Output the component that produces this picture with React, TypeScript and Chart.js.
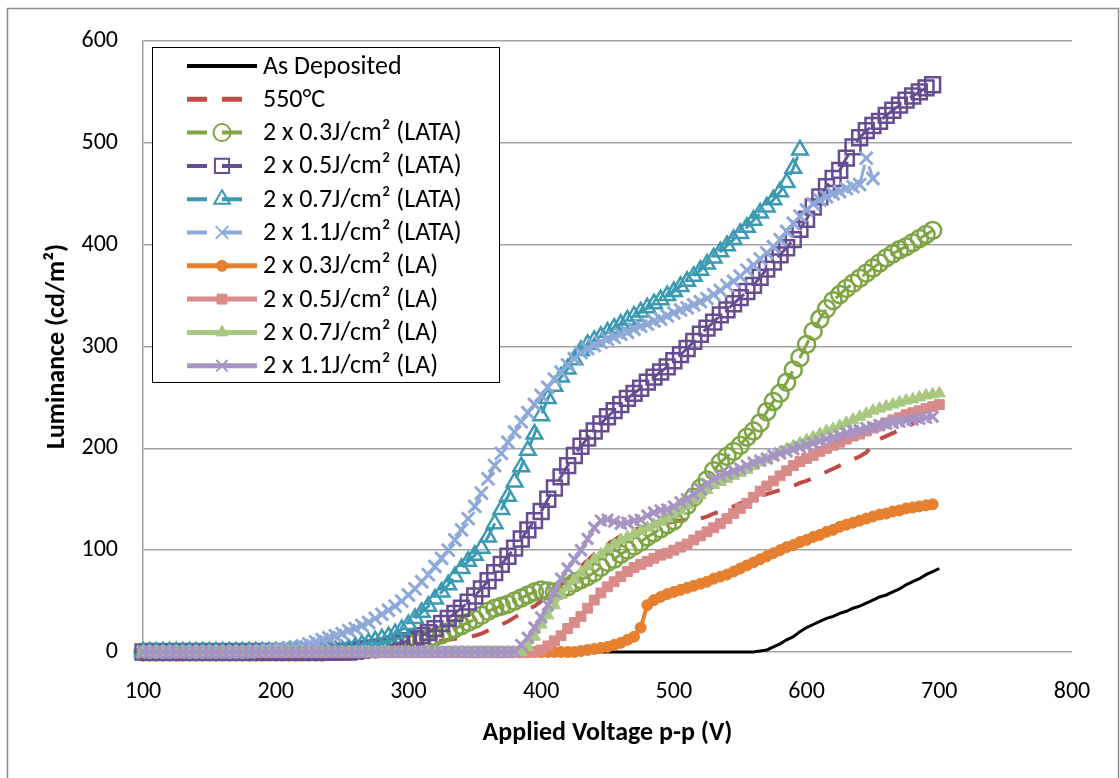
import React, { useEffect, useRef } from "react";
import { Chart, registerables } from "chart.js";

Chart.register(...registerables);

// Applied voltage sweep (V, peak-to-peak)
const voltage = [
  100, 105, 110, 115, 120, 125, 130, 135, 140, 145,
  150, 155, 160, 165, 170, 175, 180, 185, 190, 195,
  200, 205, 210, 215, 220, 225, 230, 235, 240, 245,
  250, 255, 260, 265, 270, 275, 280, 285, 290, 295,
  300, 305, 310, 315, 320, 325, 330, 335, 340, 345,
  350, 355, 360, 365, 370, 375, 380, 385, 390, 395,
  400, 405, 410, 415, 420, 425, 430, 435, 440, 445,
  450, 455, 460, 465, 470, 475, 480, 485, 490, 495,
  500, 505, 510, 515, 520, 525, 530, 535, 540, 545,
  550, 555, 560, 565, 570, 575, 580, 585, 590, 595,
  600, 605, 610, 615, 620, 625, 630, 635, 640, 645,
  650, 655, 660, 665, 670, 675, 680, 685, 690, 695,
  700,
];

// Luminance (cd/m²) for each sample, starting at 100 V
const asDeposited = [
  0, 0, 0, 0, 0, 0, 0, 0, 0, 0,
  0, 0, 0, 0, 0, 0, 0, 0, 0, 0,
  0, 0, 0, 0, 0, 0, 0, 0, 0, 0,
  0, 0, 0, 0, 0, 0, 0, 0, 0, 0,
  0, 0, 0, 0, 0, 0, 0, 0, 0, 0,
  0, 0, 0, 0, 0, 0, 0, 0, 0, 0,
  0, 0, 0, 0, 0, 0, 0, 0, 0, 0,
  0, 0, 0, 0, 0, 0, 0, 0, 0, 0,
  0, 0, 0, 0, 0, 0, 0, 0, 0, 0,
  0, 0, 0, 1, 2, 5, 8, 12, 15, 20,
  24, 27, 30, 33, 35, 38, 40, 43, 45, 48,
  51, 54, 56, 59, 62, 66, 69, 72, 76, 79,
  82,
];

const furnace550 = [
  0, 0, 0, 0, 0, 0, 0, 0, 0, 0,
  0, 0, 0, 0, 0, 0, 0, 0, 0, 0,
  0, 0, 0, 0, 0, 0, 0, 0, 0, 0,
  0, 1, 1, 2, 2, 3, 3, 4, 5, 5,
  6, 7, 8, 9, 10, 11, 12, 13, 14, 15,
  16, 18, 21, 24, 27, 30, 34, 38, 42, 45,
  50, 55, 60, 66, 72, 78, 84, 90, 96, 101,
  106, 110, 114, 117, 120, 122, 123, 124, 126, 127,
  128, 129, 130, 130, 131, 133, 136, 138, 141, 143,
  146, 148, 151, 153, 155, 157, 159, 161, 163, 166,
  168, 171, 174, 177, 180, 183, 186, 189, 192, 196,
  203, 209, 212, 215, 218, 221, 224, 228, 232, 236,
  240,
];

const lata03 = [
  0, 0, 0, 0, 0, 0, 0, 0, 0, 0,
  0, 0, 0, 0, 0, 0, 0, 0, 0, 0,
  0, 0, 0, 0, 0, 0, 0, 0, 1, 1,
  1, 1, 2, 2, 3, 3, 4, 5, 6, 7,
  8, 9, 11, 13, 15, 17, 20, 23, 26, 29,
  32, 36, 40, 43, 45, 47, 50, 53, 56, 59,
  61, 60, 59, 61, 64, 68, 71, 74, 78, 83,
  88, 91, 96, 100, 104, 108, 113, 117, 121, 125,
  129, 136, 144, 152, 161, 169, 178, 186, 192, 197,
  203, 211, 217, 225, 236, 246, 254, 265, 277, 289,
  302, 315, 327, 337, 345, 351, 357, 362, 367, 372,
  377, 382, 387, 391, 395, 398, 402, 406, 410, 414,
];

const lata05 = [
  0, 0, 0, 0, 0, 0, 0, 0, 0, 0,
  0, 0, 0, 0, 0, 0, 0, 0, 0, 0,
  0, 0, 0, 0, 0, 0, 0, 0, 0, 0,
  0, 0, 1, 2, 3, 4, 5, 6, 8, 9,
  11, 13, 16, 19, 23, 28, 33, 38, 43, 49,
  55, 62, 70, 78, 86, 94, 102, 111, 120, 129,
  138, 150, 161, 172, 183, 193, 202, 210, 217, 224,
  231, 237, 243, 249, 254, 259, 265, 270, 275, 280,
  286, 292, 298, 305, 312, 318, 324, 331, 336, 342,
  348, 354, 360, 368, 376, 383, 390, 397, 405, 415,
  425, 437, 447, 457, 465, 473, 485, 496, 505, 512,
  517, 521, 527, 532, 537, 542, 546, 550, 554, 557,
];

const lata07 = [
  0, 0, 0, 0, 0, 0, 0, 0, 0, 0,
  0, 0, 0, 0, 0, 0, 0, 0, 0, 0,
  0, 0, 0, 0, 0, 0, 0, 0, 1, 1,
  2, 3, 5, 7, 9, 11, 13, 15, 18, 22,
  27, 33, 39, 45, 52, 59, 66, 74, 82, 89,
  95, 102, 113, 126, 140, 153, 167, 182, 198, 214,
  232, 249, 261, 270, 278, 287, 296, 302, 306, 310,
  314, 318, 322, 326, 330, 334, 338, 342, 346, 350,
  354, 359, 364, 369, 375, 381, 387, 393, 399, 405,
  411, 417, 424, 431, 437, 444, 452, 461, 475, 493,
];

const lata11 = [
  0, 0, 0, 0, 0, 0, 0, 0, 0, 0,
  0, 0, 0, 0, 0, 0, 0, 1, 1, 2,
  2, 3, 4, 5, 6, 8, 10, 12, 14, 16,
  18, 21, 23, 26, 29, 33, 37, 41, 45, 50,
  56, 62, 69, 76, 84, 92, 100, 110, 120, 131,
  143, 156, 170, 183, 195, 206, 216, 226, 235, 243,
  252, 260, 268, 275, 282, 288, 294, 298, 301, 304,
  307, 309, 312, 314, 317, 320, 322, 325, 327, 330,
  333, 336, 338, 341, 344, 347, 351, 355, 360, 364,
  369, 375, 380, 386, 392, 398, 405, 413, 421, 428,
  434, 440, 444, 447, 450, 452, 455, 457, 459, 485,
  465,
];

const la03 = [
  0, 0, 0, 0, 0, 0, 0, 0, 0, 0,
  0, 0, 0, 0, 0, 0, 0, 0, 0, 0,
  0, 0, 0, 0, 0, 0, 0, 0, 0, 0,
  0, 0, 0, 0, 0, 0, 0, 0, 0, 0,
  0, 0, 0, 0, 0, 0, 0, 0, 0, 0,
  0, 0, 0, 0, 0, 0, 0, 0, 0, 0,
  0, 0, 0, 0, 0, 0, 1, 2, 3, 4,
  5, 7, 9, 12, 15, 24, 46, 51, 54, 57,
  59, 61, 63, 65, 67, 69, 72, 74, 76, 79,
  82, 85, 88, 91, 94, 97, 100, 103, 105, 108,
  110, 113, 115, 118, 120, 123, 125, 127, 129, 131,
  133, 135, 136, 138, 139, 141, 142, 143, 144, 145,
];

const la05 = [
  0, 0, 0, 0, 0, 0, 0, 0, 0, 0,
  0, 0, 0, 0, 0, 0, 0, 0, 0, 0,
  0, 0, 0, 0, 0, 0, 0, 0, 0, 0,
  0, 0, 0, 0, 0, 0, 0, 0, 0, 0,
  0, 0, 0, 0, 0, 0, 0, 0, 0, 0,
  0, 0, 0, 0, 0, 0, 0, 0, 0, 0,
  2, 6, 11, 16, 23, 29, 35, 43, 51, 58,
  64, 69, 74, 79, 83, 86, 89, 92, 95, 97,
  100, 103, 106, 110, 114, 118, 122, 126, 131, 136,
  141, 146, 152, 158, 163, 168, 173, 178, 183, 187,
  190, 193, 197, 200, 203, 206, 209, 212, 214, 217,
  220, 222, 225, 228, 230, 233, 235, 237, 239, 241,
  243,
];

const la07 = [
  0, 0, 0, 0, 0, 0, 0, 0, 0, 0,
  0, 0, 0, 0, 0, 0, 0, 0, 0, 0,
  0, 0, 0, 0, 0, 0, 0, 0, 0, 0,
  0, 0, 0, 0, 0, 0, 0, 0, 0, 0,
  0, 0, 0, 0, 0, 0, 0, 0, 0, 0,
  0, 0, 0, 0, 0, 0, 0, 0, 5, 15,
  27, 36, 46, 56, 64, 71, 78, 85, 91, 96,
  101, 106, 110, 113, 116, 119, 122, 125, 128, 131,
  135, 139, 144, 149, 154, 159, 164, 167, 170, 173,
  176, 179, 183, 186, 189, 192, 196, 199, 202, 205,
  208, 211, 214, 217, 219, 222, 225, 228, 231, 234,
  237, 239, 241, 243, 245, 247, 248, 250, 252, 253,
  254,
];

const la11 = [
  0, 0, 0, 0, 0, 0, 0, 0, 0, 0,
  0, 0, 0, 0, 0, 0, 0, 0, 0, 0,
  0, 0, 0, 0, 0, 0, 0, 0, 0, 0,
  0, 0, 0, 0, 0, 0, 0, 0, 0, 0,
  0, 0, 0, 0, 0, 0, 0, 0, 0, 0,
  0, 0, 0, 0, 0, 0, 0, 7, 14, 24,
  34, 46, 59, 72, 82, 91, 100, 111, 122, 129,
  130, 128, 126, 127, 129, 130, 134, 137, 139, 140,
  143, 147, 150, 155, 160, 165, 170, 173, 175, 178,
  180, 183, 186, 188, 190, 193, 195, 197, 199, 201,
  203, 205, 207, 209, 211, 213, 215, 217, 218, 220,
  221, 223, 224, 225, 226, 227, 228, 229, 230, 231,
];

const seriesLabels = [
  "As Deposited",
  "550°C",
  "2 x 0.3J/cm² (LATA)",
  "2 x 0.5J/cm² (LATA)",
  "2 x 0.7J/cm² (LATA)",
  "2 x 1.1J/cm² (LATA)",
  "2 x 0.3J/cm² (LA)",
  "2 x 0.5J/cm² (LA)",
  "2 x 0.7J/cm² (LA)",
  "2 x 1.1J/cm² (LA)",
];

const xTicks = [100, 200, 300, 400, 500, 600, 700, 800];
const yTicks = [0, 100, 200, 300, 400, 500, 600];

const FONT = "Carlito, Lato, 'Open Sans', sans-serif";

type Marker = "none" | "circle" | "rect" | "triangle" | "crossRot";

interface Style {
  color: string;
  width: number;
  dash: number[];
  marker: Marker;
  radius: number;
  filled: boolean;
  markerWidth: number;
}

const styles: Style[] = [
  { color: "#000000", width: 3, dash: [], marker: "none", radius: 0, filled: false, markerWidth: 0 },
  { color: "#BE4B48", width: 4, dash: [18, 15], marker: "none", radius: 0, filled: false, markerWidth: 0 },
  { color: "#7FA443", width: 3, dash: [20, 15], marker: "circle", radius: 8.5, filled: false, markerWidth: 2.5 },
  { color: "#664D92", width: 3, dash: [20, 15], marker: "rect", radius: 10.5, filled: false, markerWidth: 2.5 },
  { color: "#3B9AB2", width: 3, dash: [20, 15], marker: "triangle", radius: 9, filled: false, markerWidth: 2.5 },
  { color: "#8EA9D8", width: 3, dash: [20, 15], marker: "crossRot", radius: 9, filled: false, markerWidth: 3 },
  { color: "#E6802F", width: 4, dash: [], marker: "circle", radius: 5.5, filled: true, markerWidth: 1 },
  { color: "#D98B8A", width: 4, dash: [], marker: "rect", radius: 7, filled: true, markerWidth: 1 },
  { color: "#A8C880", width: 4, dash: [], marker: "triangle", radius: 7, filled: true, markerWidth: 1 },
  { color: "#A594C4", width: 4, dash: [], marker: "crossRot", radius: 8, filled: false, markerWidth: 3 },
];

const seriesValues = [asDeposited, furnace550, lata03, lata05, lata07, lata11, la03, la05, la07, la11];

function drawMarker(
  ctx: CanvasRenderingContext2D,
  s: Style,
  x: number,
  y: number
) {
  if (s.marker === "none") return;
  const r = s.radius;
  ctx.save();
  ctx.setLineDash([]);
  ctx.lineWidth = s.markerWidth;
  ctx.strokeStyle = s.color;
  ctx.fillStyle = s.color;
  ctx.beginPath();
  if (s.marker === "circle") {
    ctx.arc(x, y, r, 0, Math.PI * 2);
  } else if (s.marker === "rect") {
    const h = r * Math.SQRT1_2;
    ctx.rect(x - h, y - h, 2 * h, 2 * h);
  } else if (s.marker === "triangle") {
    const c = r * Math.cos(Math.PI / 6);
    ctx.moveTo(x, y - r);
    ctx.lineTo(x + c, y + r / 2);
    ctx.lineTo(x - c, y + r / 2);
    ctx.closePath();
  } else {
    const h = r * Math.SQRT1_2;
    ctx.moveTo(x - h, y - h);
    ctx.lineTo(x + h, y + h);
    ctx.moveTo(x - h, y + h);
    ctx.lineTo(x + h, y - h);
  }
  if (s.filled && s.marker !== "crossRot") ctx.fill();
  ctx.stroke();
  ctx.restore();
}

// White page, outer frame, and the boxed legend in the upper-left of the plot
const framePlugin = {
  id: "frame",
  beforeDraw(chart: Chart) {
    const { ctx, width, height } = chart;
    ctx.save();
    ctx.fillStyle = "#ffffff";
    ctx.fillRect(0, 0, width, height);
    ctx.strokeStyle = "#8c8c8c";
    ctx.lineWidth = 1.5;
    ctx.strokeRect(7.5, 8.5, 1111, 800);
    ctx.restore();
  },
  afterDraw(chart: Chart) {
    const { ctx } = chart;
    const box = { x: 152.5, y: 47.5, w: 347, h: 335 };
    ctx.save();
    ctx.fillStyle = "#ffffff";
    ctx.fillRect(box.x, box.y, box.w, box.h);
    ctx.strokeStyle = "#000000";
    ctx.lineWidth = 1;
    ctx.strokeRect(box.x, box.y, box.w, box.h);
    ctx.font = `26px ${FONT}`;
    ctx.textBaseline = "middle";
    ctx.textAlign = "left";
    seriesLabels.forEach((label, i) => {
      const s = styles[i];
      const y = 66 + i * 33.3;
      ctx.save();
      ctx.strokeStyle = s.color;
      ctx.lineWidth = s.width + 1;
      ctx.lineCap = "butt";
      ctx.setLineDash(s.dash.length ? [20, 15] : []);
      ctx.beginPath();
      ctx.moveTo(187, y);
      ctx.lineTo(257, y);
      ctx.stroke();
      ctx.restore();
      drawMarker(
        ctx,
        { ...s, radius: s.filled ? s.radius : Math.min(s.radius, 10), markerWidth: Math.min(s.markerWidth, 2) },
        222,
        y
      );
      ctx.fillStyle = "#000000";
      ctx.fillText(label, 263, y + 1);
    });
    ctx.restore();
  },
};

export default function App() {
  const canvasRef = useRef<HTMLCanvasElement | null>(null);

  useEffect(() => {
    const canvas = canvasRef.current;
    if (!canvas) return;

    const datasets = seriesValues.map((values, i) => {
      const s = styles[i];
      return {
        label: seriesLabels[i],
        data: values.map((y, k) => ({ x: voltage[k], y })),
        borderColor: s.color,
        backgroundColor: s.color,
        borderWidth: s.width,
        borderDash: s.dash,
        pointStyle: s.marker === "none" ? "circle" : s.marker,
        pointRadius: s.marker === "none" ? 0 : s.radius,
        pointBorderWidth: s.markerWidth,
        pointBorderColor: s.color,
        pointBackgroundColor: s.filled ? s.color : "rgba(0,0,0,0)",
        tension: 0,
        clip: false as const,
        order: seriesValues.length - 1 - i,
      };
    });

    const chart = new Chart(canvas, {
      type: "line",
      data: { datasets: datasets as any },
      options: {
        responsive: false,
        animation: false,
        devicePixelRatio: 1,
        events: [],
        layout: { padding: { top: 41, right: 48, left: 0, bottom: 0 } },
        plugins: {
          legend: { display: false },
          tooltip: { enabled: false },
        },
        scales: {
          x: {
            type: "linear",
            min: 100,
            max: 800,
            afterFit(scale: any) {
              scale.height = 126;
            },
            afterBuildTicks(scale: any) {
              scale.ticks = xTicks.map((v) => ({ value: v }));
            },
            grid: { display: false, drawTicks: false },
            border: { display: false },
            ticks: {
              padding: 26,
              color: "#000000",
              font: { family: FONT, size: 24 },
              maxRotation: 0,
            },
            title: {
              display: true,
              text: "Applied Voltage p-p (V)",
              color: "#000000",
              font: { family: FONT, size: 26, weight: "bold" },
              padding: { top: 0, bottom: 29 },
            },
          },
          y: {
            type: "linear",
            min: 0,
            max: 600,
            afterFit(scale: any) {
              scale.width = 143;
            },
            afterBuildTicks(scale: any) {
              scale.ticks = yTicks.map((v) => ({ value: v }));
            },
            grid: { color: "#a3a3a3", lineWidth: 1.5, drawTicks: false },
            border: { display: true, color: "#a3a3a3", width: 1.5 },
            ticks: {
              padding: 25,
              color: "#000000",
              font: { family: FONT, size: 24 },
            },
            title: {
              display: true,
              text: "Luminance (cd/m²)",
              color: "#000000",
              font: { family: FONT, size: 26, weight: "bold" },
              padding: { top: 42, bottom: 0 },
            },
          },
        },
      },
      plugins: [framePlugin],
    });

    return () => chart.destroy();
  }, []);

  return (
    <div style={{ position: "absolute", left: 0, top: 0, width: 1120, height: 778 }}>
      <canvas ref={canvasRef} width={1120} height={778} />
    </div>
  );
}
